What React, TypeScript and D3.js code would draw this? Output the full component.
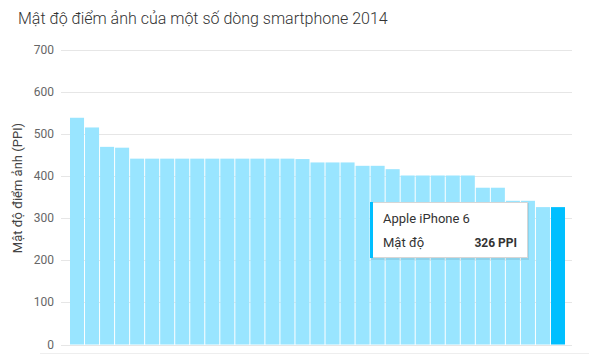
import React, { useEffect, useRef } from 'react';
import * as d3 from 'd3';

const phones = [
  'LG G3', 'Samsung Galaxy S5 LTE-A', 'HTC Butterfly 2', 'Sony Xperia Z3+',
  'HTC One M8', 'Sony Xperia Z2', 'Sony Xperia Z3', 'Samsung Galaxy S5', 'LG G2', 'Huawei Ascend P7',
  'Oppo Find 7a', 'OnePlus One', 'Xiaomi Mi4', 'Motorola Moto X 2014', 'ZTE Nubia Z7 mini',
  'Lenovo Vibe Z2 Pro', 'Sony Xperia Z3 Compact', 'Asus Zenfone 5', 'Meizu MX4',
  'Nokia Lumia 930', 'HTC One E8', 'Alcatel Idol X+',
  'Apple iPhone 6 Plus', 'Samsung Galaxy Note 4', 'Nexus 6', 'LG G Flex 2', 'Motorola Droid Turbo',
  'Samsung Galaxy Alpha', 'Sony Xperia Z1 Compact', 'Nokia Lumia 1520', 'HTC Desire 820',
  'Apple iPhone 5s', 'Apple iPhone 6'
];
const ppi = [
  538, 515, 469, 467,
  441, 441, 441, 441, 441, 441, 441, 441, 441, 441, 441,
  440, 432, 432, 432,
  424, 424, 416,
  401, 401, 401, 401, 401,
  372, 372, 341, 341,
  326, 326
];
const yTicks = [0, 100, 200, 300, 400, 500, 600, 700];
const highlighted = 'Apple iPhone 6';

export default function App() {
  const ref = useRef<SVGSVGElement>(null);

  useEffect(() => {
    const svg = d3.select(ref.current);
    svg.selectAll('*').remove();

    const x = d3.scaleBand<string>().domain(phones).range([70, 565]).paddingInner(0.066);
    const y = d3.scaleLinear().domain([0, 700]).range([344.5, 49.5]);

    svg.append('text')
      .attr('x', 18).attr('y', 24)
      .attr('font-family', 'Roboto, sans-serif').attr('font-size', 16).attr('font-weight', 300)
      .attr('fill', '#333')
      .text('Mật độ điểm ảnh của một số dòng smartphone 2014');

    // grid + tick labels
    const grid = svg.append('g');
    grid.selectAll('line').data(yTicks).enter().append('line')
      .attr('x1', 61).attr('x2', 572)
      .attr('y1', d => Math.round(y(d)) + 0.5).attr('y2', d => Math.round(y(d)) + 0.5)
      .attr('stroke', '#e6e6e6').attr('stroke-width', 1);
    grid.selectAll('text').data(yTicks).enter().append('text')
      .attr('x', 54).attr('y', d => y(d) + 4)
      .attr('text-anchor', 'end')
      .attr('font-family', 'Roboto, sans-serif').attr('font-size', 12)
      .attr('fill', '#666')
      .text(d => d);

    svg.append('text')
      .attr('transform', 'translate(22,188) rotate(-90)')
      .attr('text-anchor', 'middle')
      .attr('font-family', 'Roboto, sans-serif').attr('font-size', 13)
      .attr('fill', '#444')
      .text('Mật độ điểm ảnh (PPI)');

    // bars
    svg.append('g').selectAll('rect').data(phones).enter().append('rect')
      .attr('x', d => x(d)!)
      .attr('width', x.bandwidth())
      .attr('y', (d, i) => y(ppi[i]))
      .attr('height', (d, i) => y(0) - y(ppi[i]))
      .attr('fill', d => (d === highlighted ? '#00bfff' : '#99e5ff'));

    // bottom separator
    svg.append('line')
      .attr('x1', 40).attr('x2', 589).attr('y1', 353.5).attr('y2', 353.5)
      .attr('stroke', '#eeeeee');

    // tooltip
    const idx = phones.indexOf(highlighted);
    const tip = svg.append('g').attr('transform', 'translate(370,202)');
    tip.append('rect')
      .attr('x', 1).attr('y', 1).attr('width', 158).attr('height', 57)
      .attr('fill', 'rgba(0,0,0,0.08)');
    tip.append('rect')
      .attr('x', 0.5).attr('y', 0.5).attr('width', 157).attr('height', 55)
      .attr('fill', '#fff').attr('stroke', '#d6d6d6');
    tip.append('rect')
      .attr('x', 0).attr('y', 0).attr('width', 3).attr('height', 56)
      .attr('fill', '#00bfff');
    tip.append('text')
      .attr('x', 13).attr('y', 21)
      .attr('font-family', 'Roboto, sans-serif').attr('font-size', 13).attr('fill', '#333')
      .text(highlighted);
    tip.append('text')
      .attr('x', 13).attr('y', 45)
      .attr('font-family', 'Roboto, sans-serif').attr('font-size', 13).attr('fill', '#333')
      .text('Mật độ');
    tip.append('text')
      .attr('x', 147).attr('y', 45).attr('text-anchor', 'end')
      .attr('font-family', 'Roboto, sans-serif').attr('font-size', 12).attr('font-weight', 'bold')
      .attr('fill', '#333')
      .text(ppi[idx] + ' PPI');
  }, []);

  return (
    <svg ref={ref} width={594} height={362}
      style={{ position: 'absolute', left: 0, top: 0, background: '#fff' }} />
  );
}
